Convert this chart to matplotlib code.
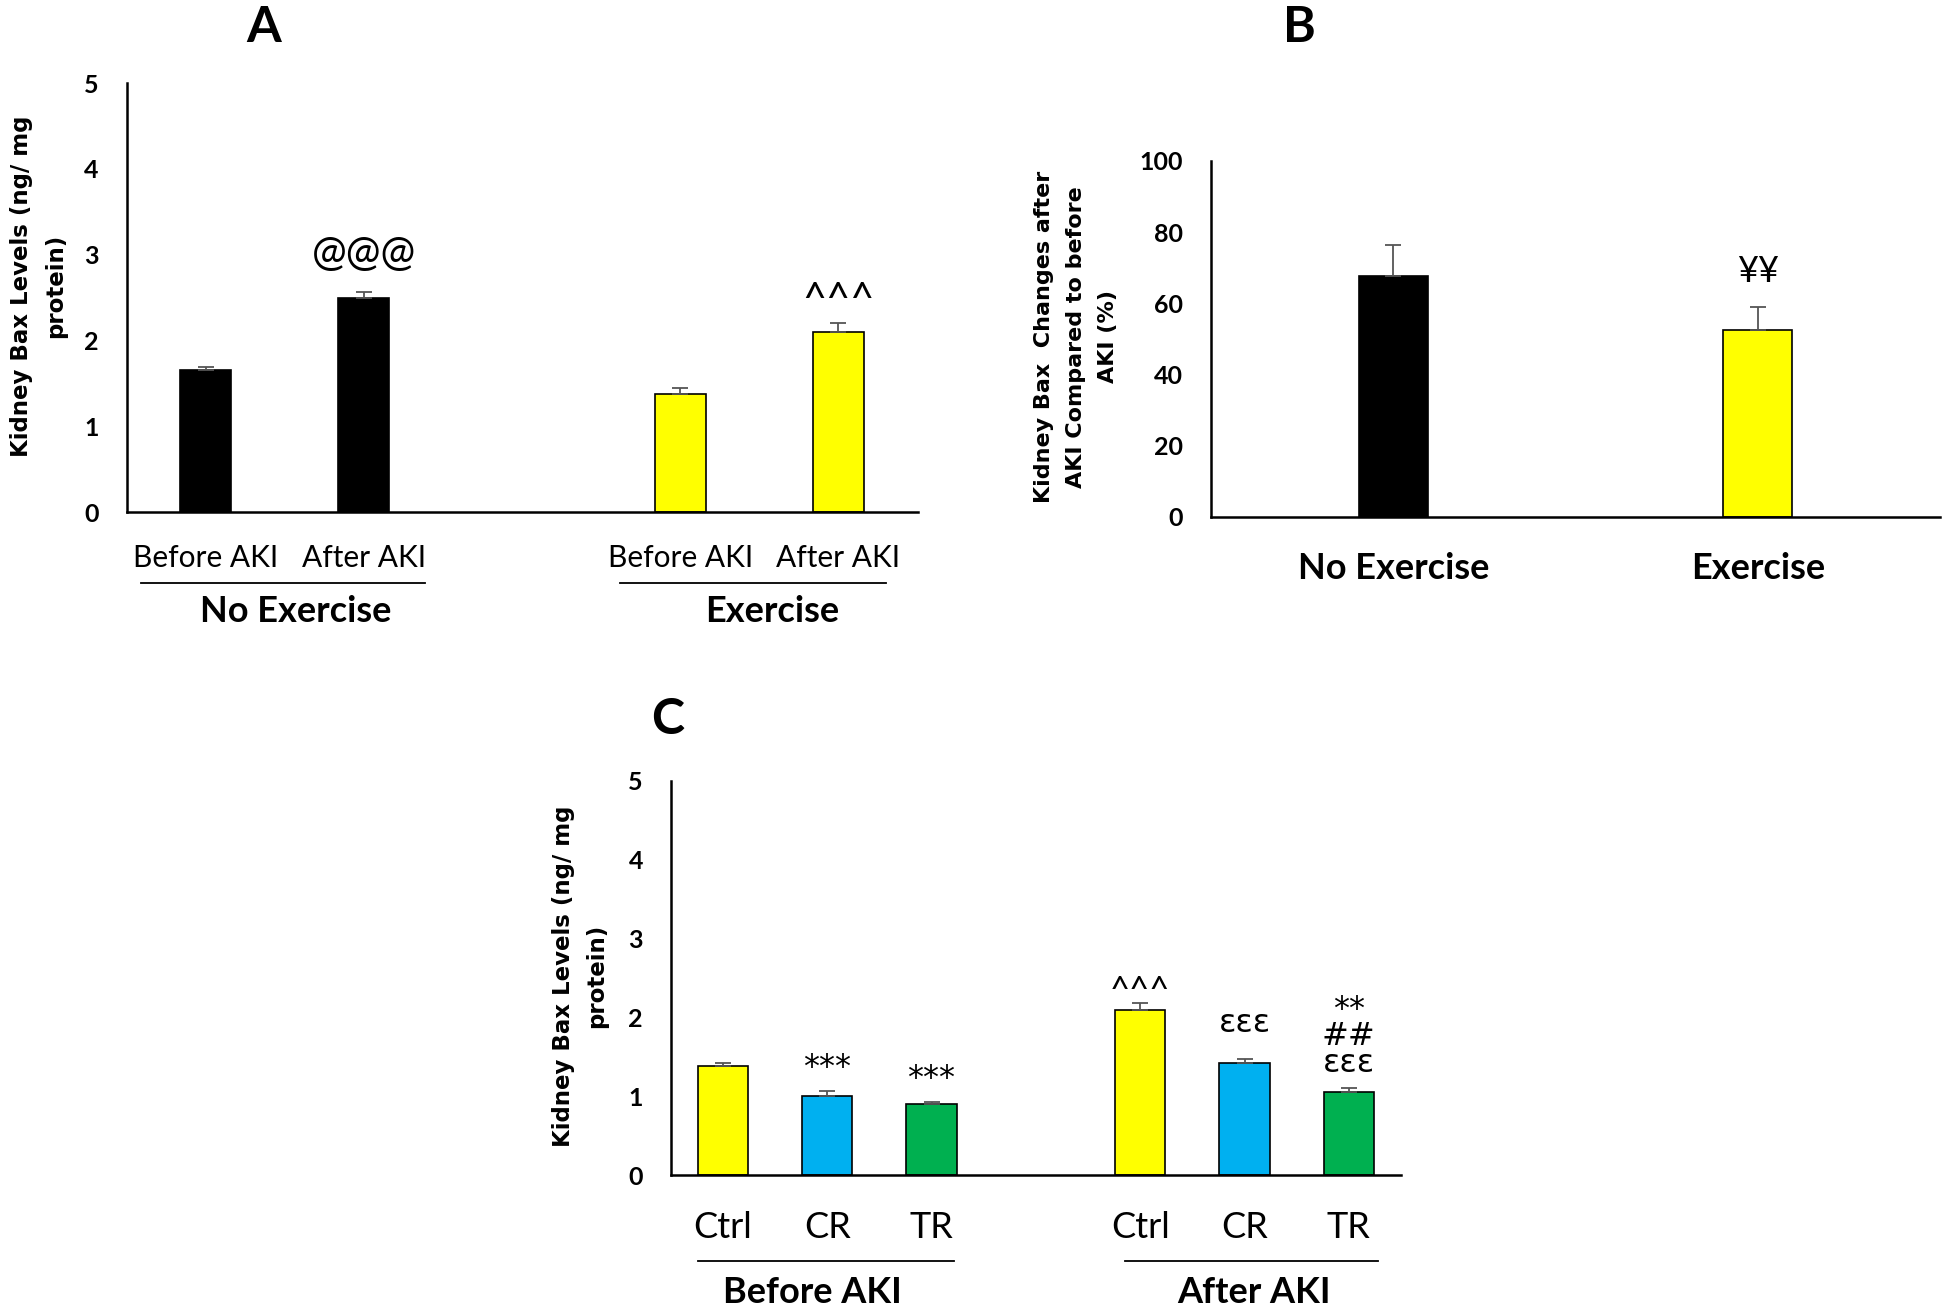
import matplotlib
matplotlib.use("Agg")
import matplotlib.pyplot as plt
import matplotlib.transforms as mtransforms

plt.rcParams['font.family'] = ['Lato', 'DejaVu Sans']

# ---------------- data ----------------
# Panel A
a_labels = ["Before AKI", "After AKI", "Before AKI", "After AKI"]
a_groups = ["No Exercise", "Exercise"]
a_values = [1.65, 2.49, 1.37, 2.10]
a_errors = [0.04, 0.07, 0.07, 0.10]
a_colors = ["#000000", "#000000", "#FFFF00", "#FFFF00"]
a_annot = ["", "@@@", "", "^^^"]

# Panel B
b_labels = ["No Exercise", "Exercise"]
b_values = [67.6, 52.6]
b_errors = [8.7, 6.3]
b_colors = ["#000000", "#FFFF00"]
b_annot = ["", "¥¥"]

# Panel C
c_labels = ["Ctrl", "CR", "TR", "Ctrl", "CR", "TR"]
c_groups = ["Before AKI", "After AKI"]
c_values = [1.38, 1.01, 0.90, 2.09, 1.42, 1.05]
c_errors = [0.05, 0.06, 0.03, 0.10, 0.05, 0.06]
c_colors = ["#FFFF00", "#00B0F0", "#00B050", "#FFFF00", "#00B0F0", "#00B050"]
c_annot = ["", "***", "***", "^^^", "εεε", "**\n##\nεεε"]

W, H = 1944, 1311
fig = plt.figure(figsize=(W / 100, H / 100), dpi=100)


def frac(l, t, r, b):
    return [l / W, 1 - b / H, (r - l) / W, (b - t) / H]


def style_axes(ax, ymax, ystep, ticksize):
    for s in ["top", "right"]:
        ax.spines[s].set_visible(False)
    for s in ["left", "bottom"]:
        ax.spines[s].set_linewidth(1.8)
        ax.spines[s].set_color("black")
    ax.set_ylim(0, ymax)
    ax.set_yticks([i * ystep for i in range(int(round(ymax / ystep)) + 1)])
    ax.tick_params(axis="y", length=0, pad=20, labelsize=ticksize)
    ax.tick_params(axis="x", length=0)
    ax.set_xticks([])
    for lab in ax.get_yticklabels():
        lab.set_fontweight("bold")


def bars(ax, pos, vals, errs, cols, width, annots, ann_size, ann_offs):
    ax.bar(pos, vals, width=width, color=cols, edgecolor="black", linewidth=1.2, zorder=2)
    ax.errorbar(pos, vals, yerr=[[0] * len(vals), errs], fmt="none", ecolor="#555555",
                elinewidth=1.3, capsize=6, capthick=1.3, zorder=3)
    for x, v, e, t, off in zip(pos, vals, errs, annots, ann_offs):
        if t:
            dv = ("*" in t) or ("ε" in t)
            ax.annotate(t, xy=(x, v + e), xytext=(0, off), textcoords="offset points",
                        ha="center", va="bottom",
                        fontsize=ann_size - (2 if dv else 0), linespacing=0.85,
                        family=["DejaVu Sans"] if dv else ["Lato", "DejaVu Sans"])


# ---------------- Panel A ----------------
axA = fig.add_axes(frac(126.5, 83, 917.5, 512))
a_pos = [0, 1, 3, 4]
bars(axA, a_pos, a_values, a_errors, a_colors, 0.32, a_annot, 30, [0, 14, 0, 2])
axA.set_xlim(-0.5, 4.5)
style_axes(axA, 5, 1, 18)
trA = mtransforms.blended_transform_factory(axA.transData, axA.transAxes)
for x, t in zip(a_pos, a_labels):
    axA.text(x, -0.107, t, transform=trA, ha="center", va="center", fontsize=21.5)
for (x0, x1) in [(-0.41, 1.39), (2.62, 4.30)]:
    axA.plot([x0, x1], [-0.165, -0.165], transform=trA, color="black", lw=1.3, clip_on=False)
for x, t in zip([0.57, 3.58], a_groups):
    axA.text(x, -0.232, t, transform=trA, ha="center", va="center", fontsize=26, fontweight="bold")
fig.text(38.5 / W, 1 - 286 / H, "Kidney Bax Levels (ng/ mg\nprotein)", rotation=90, ha="center",
         va="center", fontsize=16.5, fontweight="bold", family="DejaVu Sans", linespacing=1.6)
fig.text(264 / W, 1 - 27 / H, "A", ha="center", va="center", fontsize=36, fontweight="bold")

# ---------------- Panel B ----------------
axB = fig.add_axes(frac(1211, 161, 1940, 517))
b_pos = [0, 1]
bars(axB, b_pos, b_values, b_errors, b_colors, 0.19, b_annot, 26, [0, 14])
axB.set_xlim(-0.5, 1.5)
style_axes(axB, 100, 20, 18)
trB = mtransforms.blended_transform_factory(axB.transData, axB.transAxes)
for x, t in zip(b_pos, b_labels):
    axB.text(x, -0.146, t, transform=trB, ha="center", va="center", fontsize=26, fontweight="bold")
fig.text(1076 / W, 1 - 337 / H, "Kidney Bax  Changes after\nAKI Compared to before\nAKI (%)",
         rotation=90, ha="center", va="center", fontsize=16, fontweight="bold",
         family="DejaVu Sans", linespacing=1.75)
fig.text(1299 / W, 1 - 27 / H, "B", ha="center", va="center", fontsize=36, fontweight="bold")

# ---------------- Panel C ----------------
axC = fig.add_axes(frac(670.7, 781, 1401, 1175.3))
c_pos = [0, 1, 2, 4, 5, 6]
bars(axC, c_pos, c_values, c_errors, c_colors, 0.48, c_annot, 25, [0, 6, 6, -3, 15, 6])
axC.set_xlim(-0.5, 6.5)
style_axes(axC, 5, 1, 18)
trC = mtransforms.blended_transform_factory(axC.transData, axC.transAxes)
for x, t in zip(c_pos, c_labels):
    axC.text(x, -0.132, t, transform=trC, ha="center", va="center", fontsize=26)
for (x0, x1) in [(-0.24, 2.22), (3.85, 6.28)]:
    axC.plot([x0, x1], [-0.217, -0.217], transform=trC, color="black", lw=1.3, clip_on=False)
for x, t in zip([0.86, 5.09], c_groups):
    axC.text(x, -0.296, t, transform=trC, ha="center", va="center", fontsize=26, fontweight="bold")
fig.text(580 / W, 1 - 976 / H, "Kidney Bax Levels (ng/ mg\nprotein)", rotation=90, ha="center",
         va="center", fontsize=16.5, fontweight="bold", family="DejaVu Sans", linespacing=1.6)
fig.text(668 / W, 1 - 719 / H, "C", ha="center", va="center", fontsize=36, fontweight="bold")

fig.savefig("out.png", dpi=100, facecolor="white")
